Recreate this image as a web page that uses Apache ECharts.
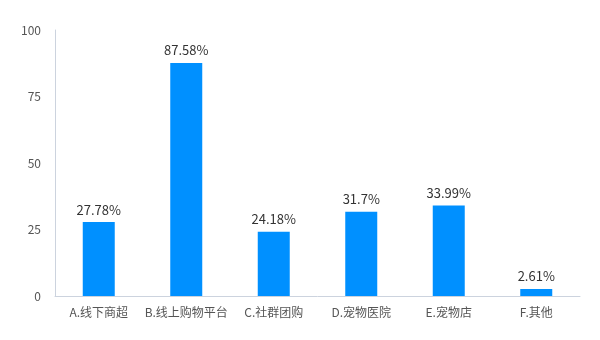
<!DOCTYPE html>
<html><head><meta charset="utf-8">
<script src="https://cdn.jsdelivr.net/npm/echarts@6/dist/echarts.min.js"></script>
<style>html,body{margin:0;padding:0;background:#fff}#c{width:600px;height:340px}</style>
</head><body><div id="c"></div>
<script>
const categories = ['A.线下商超','B.线上购物平台','C.社群团购','D.宠物医院','E.宠物店','F.其他'];
const values = [27.78, 87.58, 24.18, 31.7, 33.99, 2.61];
const yTicks = [0, 25, 50, 75, 100];
const font = '"Microsoft YaHei","Noto Sans CJK SC",sans-serif';
const chart = echarts.init(document.getElementById('c'));
chart.setOption({
  animation: false,
  textStyle: {fontFamily: font},
  grid: {left: 55, right: 20, top: 30, bottom: 44, containLabel: false},
  xAxis: {
    type: 'category', data: categories,
    axisLine: {lineStyle: {color: '#ccd3de'}},
    axisTick: {show: false},
    axisLabel: {color: '#555', fontSize: 12, fontFamily: font, margin: 10, interval: 0}
  },
  yAxis: {
    type: 'value', min: yTicks[0], max: yTicks[yTicks.length-1], interval: 25,
    axisLine: {show: true, lineStyle: {color: '#ccd3de'}},
    axisTick: {show: false},
    splitLine: {show: false},
    axisLabel: {color: '#555', fontSize: 12, fontFamily: font, margin: 14}
  },
  series: [{
    type: 'bar', data: values, barWidth: 32,
    itemStyle: {color: '#0090ff'},
    label: {show: true, position: 'top', formatter: '{c}%', color: '#333', fontSize: 13, fontFamily: font, distance: 6}
  }]
});
</script></body></html>
